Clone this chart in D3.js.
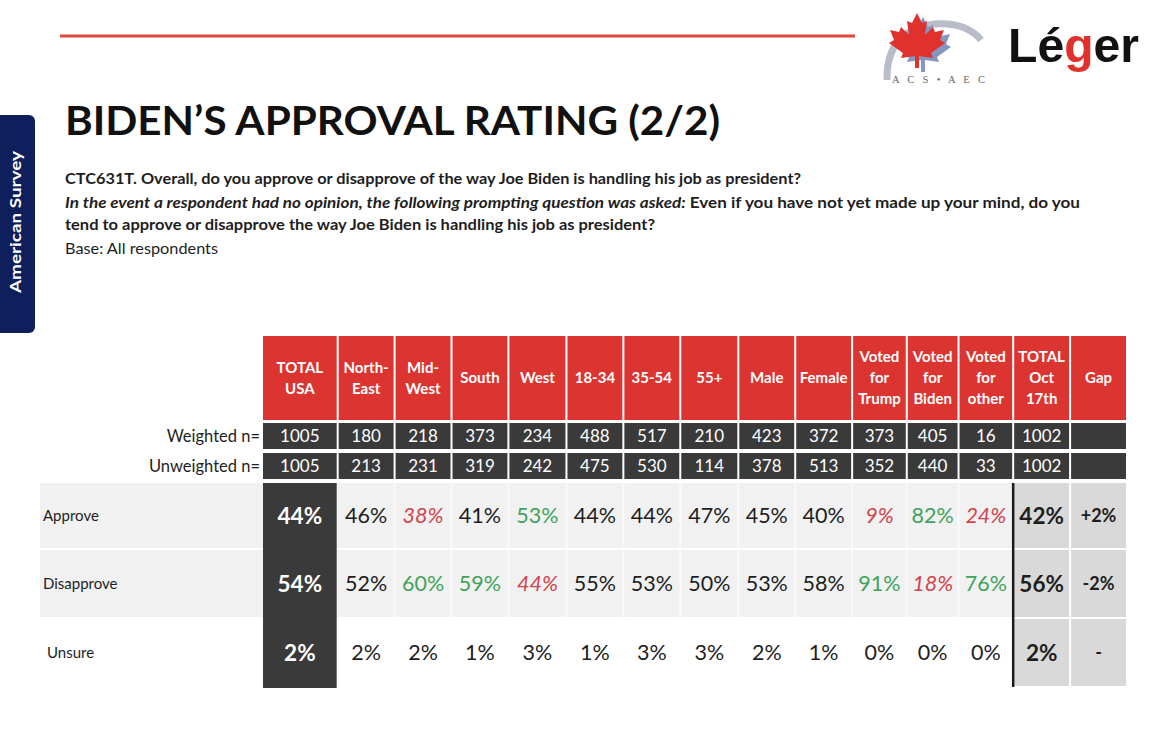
<!DOCTYPE html>
<html><head><meta charset="utf-8">
<script src="https://cdn.jsdelivr.net/npm/d3@7"></script>
<style>
body{margin:0;background:#fff;}
svg{display:block;font-family:Lato,'Open Sans',sans-serif;}
</style>
</head><body>
<svg id="c" width="1170" height="754"></svg>
<script>
// ---------------- DATA ----------------
const columns = [["TOTAL","USA"],["North-","East"],["Mid-","West"],["South"],["West"],["18-34"],["35-54"],["55+"],["Male"],["Female"],["Voted","for","Trump"],["Voted","for","Biden"],["Voted","for","other"],["TOTAL","Oct","17th"],["Gap"]];
const weighted   = [1005,180,218,373,234,488,517,210,423,372,373,405,16,1002,null];
const unweighted = [1005,213,231,319,242,475,530,114,378,513,352,440,33,1002,null];
const rowLabels  = ["Approve","Disapprove","Unsure"];
const approve    = [44,46,38,41,53,44,44,47,45,40,9,82,24,42];
const disapprove = [54,52,60,59,44,55,53,50,53,58,91,18,76,56];
const unsure     = [2,2,2,1,3,1,3,3,2,1,0,0,0,2];
const gapValues  = ["+2%","-2%","-"];
// 1 = significantly higher (green), -1 = significantly lower (red italic)
const approveSig    = [0,0,-1,0,1,0,0,0,0,0,-1,1,-1,0];
const disapproveSig = [0,0,1,1,-1,0,0,0,0,0,1,-1,1,0];
const unsureSig     = [0,0,0,0,0,0,0,0,0,0,0,0,0,0];

// ---------------- LAYOUT ----------------
const colUnits = [1.33,1,1,1,1.02,1,1,1.02,1,1,0.96,0.91,0.96,1,1];
const colCum = [0]; colUnits.forEach((u,i)=>colCum.push(colCum[i]+u));
const x = d3.scaleLinear().domain([0,colCum[colCum.length-1]]).range([263,1128]);
const colX0 = i => x(colCum[i]);
const colX1 = i => x(colCum[i+1]) - 2;
const colC  = i => (colX0(i)+colX1(i))/2;

const rowKeys  = ["header","weighted","unweighted"].concat(rowLabels);
const rowUnits = [87,30,30,67,69,69];
const rowGaps  = [3,4,4,2,2,2];
const rowCum = [0]; rowUnits.forEach((u,i)=>rowCum.push(rowCum[i]+u));
const y = d3.scaleLinear().domain([0,rowCum[rowCum.length-1]]).range([336,688]);
const rowY0 = k => y(rowCum[rowKeys.indexOf(k)]);
const rowY1 = k => y(rowCum[rowKeys.indexOf(k)+1]) - rowGaps[rowKeys.indexOf(k)];
const rowC  = k => (rowY0(k)+rowY1(k))/2;

const RED="#dc3531", DARK="#3a3a3a", LIGHT="#f1f1f1", MID="#d9d9d9";
const GREEN="#3fa45a", SIGRED="#d0444e", INK="#1e1e1e";

const svg = d3.select("#c");

// ---------------- HEADER DECOR ----------------
svg.append("line").attr("x1",60).attr("x2",855).attr("y1",36).attr("y2",36)
  .attr("stroke","#e0473d").attr("stroke-width",3);

// sidebar
svg.append("rect").attr("x",-10).attr("y",115).attr("width",45).attr("height",218)
  .attr("rx",6).attr("fill","#0f1f5b");
svg.append("text").attr("transform","translate(21,222) rotate(-90)")
  .attr("text-anchor","middle").attr("fill","#fff").attr("font-weight",700)
  .attr("font-size",16).attr("textLength",142).attr("lengthAdjust","spacingAndGlyphs")
  .text("American Survey");

// ACS logo
const logo = svg.append("g");
logo.append("path").attr("d","M887,80 Q886,30 935,24 Q966,22 981,40")
  .attr("fill","none").attr("stroke","#b9bdca").attr("stroke-width",7);
const leaf = "M0,-28 L-5,-18 L-10,-20 L-8,-6 L-16,-14 L-18,-9 L-27,-11 L-23,-1 L-28,2 L-14,12 L-16,17 L-2,15 L-2,27 L2,27 L2,15 L16,17 L14,12 L28,2 L23,-1 L27,-11 L18,-9 L16,-14 L8,-6 L10,-20 L5,-18 Z";
logo.append("path").attr("d",leaf).attr("transform","translate(923,45)").attr("fill","#8596c0");
logo.append("path").attr("d",leaf).attr("transform","translate(917,41)").attr("fill","#e0312d");
logo.append("text").attr("x",892).attr("y",83).attr("font-family","'Liberation Serif',serif")
  .attr("font-size",10.5).attr("fill","#666").attr("textLength",93).attr("lengthAdjust","spacing")
  .text("A C S • A E C");
// Leger logo
const lg = svg.append("text").attr("x",1008).attr("y",62)
  .attr("font-family","'Liberation Sans',Arial,sans-serif").attr("font-weight",700)
  .attr("font-size",48).attr("fill","#111").attr("textLength",131).attr("lengthAdjust","spacingAndGlyphs");
lg.append("tspan").text("Lé");
lg.append("tspan").attr("fill","#e0312d").text("g");
lg.append("tspan").text("er");

// title
svg.append("text").attr("x",65).attr("y",135).attr("font-size",40).attr("font-weight",700)
  .attr("fill","#111").attr("textLength",655).attr("lengthAdjust","spacingAndGlyphs")
  .text("BIDEN’S APPROVAL RATING (2/2)");

// question text
svg.append("text").attr("x",65).attr("y",184).attr("font-size",14.5).attr("font-weight",700)
  .attr("fill",INK).attr("textLength",736).attr("lengthAdjust","spacingAndGlyphs")
  .text("CTC631T. Overall, do you approve or disapprove of the way Joe Biden is handling his job as president?");
const l2 = svg.append("text").attr("x",65).attr("y",208).attr("font-size",14.5).attr("font-weight",700)
  .attr("fill",INK).attr("textLength",1015).attr("lengthAdjust","spacingAndGlyphs");
l2.append("tspan").attr("font-style","italic").text("In the event a respondent had no opinion, the following prompting question was asked:");
l2.append("tspan").text(" Even if you have not yet made up your mind, do you");
svg.append("text").attr("x",65).attr("y",230).attr("font-size",14.5).attr("font-weight",700)
  .attr("fill",INK).attr("textLength",590).attr("lengthAdjust","spacingAndGlyphs")
  .text("tend to approve or disapprove the way Joe Biden is handling his job as president?");
svg.append("text").attr("x",65).attr("y",254).attr("font-size",15)
  .attr("fill",INK).attr("textLength",153).attr("lengthAdjust","spacingAndGlyphs")
  .text("Base: All respondents");

// ---------------- TABLE ----------------
const idx = d3.range(columns.length);

// header cells
const hdr = svg.append("g");
hdr.selectAll("rect").data(idx).join("rect")
  .attr("x",colX0).attr("width",i=>colX1(i)-colX0(i))
  .attr("y",rowY0("header")).attr("height",rowY1("header")-rowY0("header"))
  .attr("fill",RED);
hdr.selectAll("text").data(idx).join("text")
  .attr("text-anchor","middle").attr("fill","#fff").attr("font-weight",700).attr("font-size",15)
  .each(function(i){
    const lines = columns[i], n = lines.length, c = rowC("header");
    d3.select(this).selectAll("tspan").data(lines).join("tspan")
      .attr("x",colC(i)).attr("y",(d,j)=>c + (j-(n-1)/2)*21).attr("dy","0.35em").text(d=>d);
  });

// n rows
[["weighted",weighted,"Weighted n="],["unweighted",unweighted,"Unweighted n="]].forEach(([k,vals,lab])=>{
  const g = svg.append("g");
  g.selectAll("rect").data(idx).join("rect")
    .attr("x",colX0).attr("width",i=>colX1(i)-colX0(i))
    .attr("y",rowY0(k)).attr("height",rowY1(k)-rowY0(k)).attr("fill",DARK);
  g.selectAll("text").data(idx.filter(i=>vals[i]!==null)).join("text")
    .attr("x",colC).attr("y",rowC(k)).attr("dy","0.36em").attr("text-anchor","middle")
    .attr("fill","#fff").attr("font-size",17).text(i=>vals[i]);
  g.append("text").attr("x",260).attr("y",rowC(k)).attr("dy","0.36em").attr("text-anchor","end")
    .attr("fill",INK).attr("font-size",16.5).text(lab);
});

// data rows
const dataRows = [
  {key:"Approve",vals:approve,sig:approveSig,gap:gapValues[0],band:true},
  {key:"Disapprove",vals:disapprove,sig:disapproveSig,gap:gapValues[1],band:true},
  {key:"Unsure",vals:unsure,sig:unsureSig,gap:gapValues[2],band:false}
];
const nMid = 13; // columns 0..12 before the comparison block
dataRows.forEach(r=>{
  const g = svg.append("g");
  const y0 = rowY0(r.key), y1 = rowY1(r.key), cy = rowC(r.key);
  if(r.band){
    g.append("rect").attr("x",40).attr("y",y0).attr("width",colX0(13)-40).attr("height",y1-y0).attr("fill",LIGHT);
    g.selectAll("line.sep").data(d3.range(2,nMid)).join("line").attr("class","sep")
      .attr("x1",i=>colX0(i)-1).attr("x2",i=>colX0(i)-1).attr("y1",y0).attr("y2",y1)
      .attr("stroke","#fafafa").attr("stroke-width",2);
  }
  // total USA dark cell
  g.append("rect").attr("x",colX0(0)).attr("width",colX1(0)-colX0(0))
    .attr("y",y0).attr("height",y1-y0+2).attr("fill",DARK);
  // comparison block
  g.selectAll("rect.cmp").data([13,14]).join("rect").attr("class","cmp")
    .attr("x",colX0).attr("width",i=>colX1(i)-colX0(i))
    .attr("y",y0).attr("height",y1-y0).attr("fill",MID);
  // label
  g.append("text").attr("x",r.key==="Unsure"?47:43).attr("y",cy).attr("dy","0.35em")
    .attr("font-size",15).attr("fill",INK).text(r.key);
  // values
  g.selectAll("text.v").data(idx.slice(0,14)).join("text").attr("class","v")
    .attr("x",colC).attr("y",cy).attr("dy","0.36em").attr("text-anchor","middle")
    .attr("font-size",i=>(i===0||i===13)?22.5:21.5)
    .attr("font-weight",i=>(i===0||i===13)?700:400)
    .attr("font-style",i=>r.sig[i]===-1?"italic":"normal")
    .attr("fill",i=>i===0?"#fff":(r.sig[i]===1?GREEN:(r.sig[i]===-1?SIGRED:INK)))
    .text(i=>r.vals[i]+"%");
  g.append("text").attr("x",colC(14)).attr("y",cy).attr("dy","0.36em").attr("text-anchor","middle")
    .attr("font-size",18).attr("font-weight",700).attr("fill",INK).text(r.gap);
});
// divider before comparison block
svg.append("line").attr("x1",colX0(13)-1).attr("x2",colX0(13)-1)
  .attr("y1",rowY0("Approve")).attr("y2",rowY1("Unsure")+1)
  .attr("stroke","#1a1a1a").attr("stroke-width",2.5);
</script>
</body></html>
